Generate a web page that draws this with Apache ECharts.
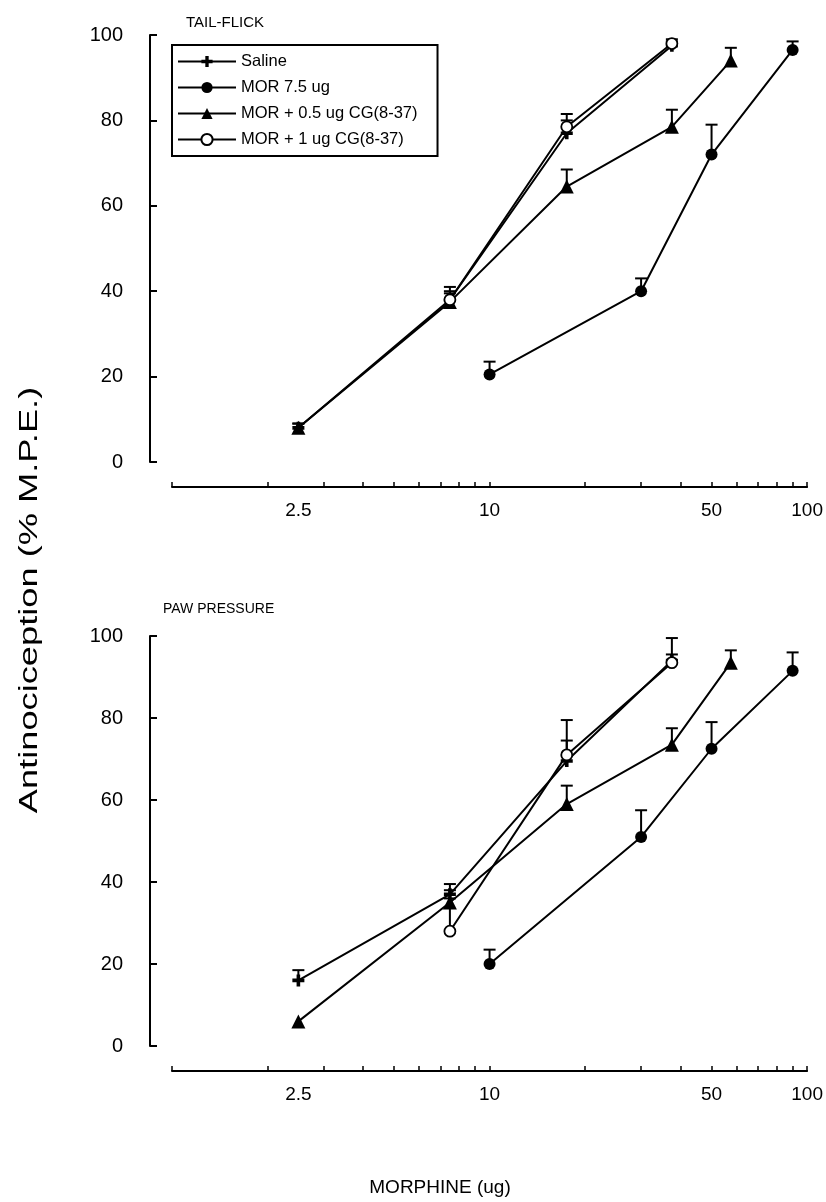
<!DOCTYPE html>
<html><head><meta charset="utf-8">
<script src="https://cdn.jsdelivr.net/npm/echarts@6/dist/echarts.min.js"></script>
<style>html,body{margin:0;padding:0;background:#fff}#c{width:826px;height:1202px}</style>
</head><body><div id="c"></div>
<script>
// Doses (ug, log axis)
const doseSaline = [2.5, 7.5, 17.5, 37.5];
const doseMor = [10, 30, 50, 90];
const doseCg05 = [2.5, 7.5, 17.5, 37.5, 57.5];
const doseCg1 = [7.5, 17.5, 37.5];
// TAIL-FLICK (% M.P.E.) and upward SEM
const tfSaline = [8, 38, 77, 97.5];      const tfSalineErr = [1, 3, 3, 1];
const tfMor = [20.5, 40, 72, 96.5];      const tfMorErr = [3, 3, 7, 2];
const tfCg05 = [8, 37.5, 64.5, 78.5, 94]; const tfCg05Err = [1, 2, 4, 4, 3];
const tfCg1 = [38, 78.5, 98];            const tfCg1Err = [2, 3, 1];
// PAW PRESSURE
const ppSaline = [16, 37, 69.5, 94];     const ppSalineErr = [2.5, 2.5, 5, 5.5];
const ppMor = [20, 51, 72.5, 91.5];      const ppMorErr = [3.5, 6.5, 6.5, 4.5];
const ppCg05 = [6, 35, 59, 73.5, 93.5];  const ppCg05Err = [0, 3, 4.5, 4, 3];
const ppCg1 = [28, 71, 93.5];            const ppCg1Err = [8, 8.5, 2];
// Axis ticks / labels
const xLabels = [2.5, 10, 50, 100];
const xTicks = [1, 2, 3, 4, 5, 6, 7, 8, 9, 10, 20, 30, 40, 50, 60, 70, 80, 90, 100];
const names = ['Saline', 'MOR 7.5 ug', 'MOR + 0.5 ug CG(8-37)', 'MOR + 1 ug CG(8-37)'];

const FONT = 'Liberation Sans, Arial, sans-serif';
const plusPath = 'path://M3.5,0h3v3.5h3.5v3h-3.5v3.5h-3v-3.5h-3.5v-3h3.5z';
const symStyles = [
  {symbol: plusPath, symbolSize: 12, itemStyle: {color: '#000'}},
  {symbol: 'circle', symbolSize: 12, itemStyle: {color: '#000'}},
  {symbol: 'triangle', symbolSize: 14, itemStyle: {color: '#000'}},
  {symbol: 'circle', symbolSize: 11, itemStyle: {color: '#fff', borderColor: '#000', borderWidth: 1.8}}
];

function pairs(xs, ys) { return xs.map((x, i) => [x, ys[i]]); }
function errData(xs, ys, es) { return xs.map((x, i) => [x, ys[i], ys[i] + es[i]]); }

function errSeries(idx, k, xs, ys, es) {
  return {
    type: 'custom', name: 'err_' + idx + '_' + k, xAxisIndex: idx, yAxisIndex: idx, z: 1,
    silent: true,
    data: errData(xs, ys, es),
    renderItem: function (params, api) {
      if (api.value(2) - api.value(1) <= 0) return null;
      const p0 = api.coord([api.value(0), api.value(1)]);
      const p1 = api.coord([api.value(0), api.value(2)]);
      return {
        type: 'group', children: [
          {type: 'line', shape: {x1: p0[0], y1: p0[1], x2: p1[0], y2: p1[1]}, style: {stroke: '#000', lineWidth: 2}},
          {type: 'line', shape: {x1: p1[0] - 6, y1: p1[1], x2: p1[0] + 6, y2: p1[1]}, style: {stroke: '#000', lineWidth: 2}}
        ]
      };
    }
  };
}
function lineSeries(idx, k, xs, ys) {
  return Object.assign({
    type: 'line', name: names[k], xAxisIndex: idx, yAxisIndex: idx, z: 3,
    data: pairs(xs, ys), lineStyle: {color: '#000', width: 2}, showSymbol: true, animation: false
  }, symStyles[k]);
}

const panels = [
  [[doseSaline, tfSaline, tfSalineErr], [doseMor, tfMor, tfMorErr], [doseCg05, tfCg05, tfCg05Err], [doseCg1, tfCg1, tfCg1Err]],
  [[doseSaline, ppSaline, ppSalineErr], [doseMor, ppMor, ppMorErr], [doseCg05, ppCg05, ppCg05Err], [doseCg1, ppCg1, ppCg1Err]]
];
const series = [];
panels.forEach((panel, idx) => {
  panel.forEach((d, k) => {
    series.push(errSeries(idx, k, d[0], d[1], d[2]));
    series.push(lineSeries(idx, k, d[0], d[1]));
  });
});

function xAxis(idx) {
  return {
    type: 'log', logBase: 10, min: 1, max: 100, gridIndex: idx, offset: 25,
    axisLine: {show: true, onZero: false, lineStyle: {color: '#000', width: 2}},
    axisTick: {show: true, inside: true, length: 5, customValues: xTicks, lineStyle: {color: '#000', width: 1.5}},
    axisLabel: {customValues: xLabels, color: '#000', fontSize: 19, fontFamily: FONT, margin: 14,
      formatter: v => String(v)},
    splitLine: {show: false}, minorTick: {show: false}
  };
}
function yAxis(idx) {
  return {
    type: 'value', min: 0, max: 100, interval: 20, gridIndex: idx, offset: 22,
    axisLine: {show: true, onZero: false, lineStyle: {color: '#000', width: 2}},
    axisTick: {show: true, inside: true, length: 7, lineStyle: {color: '#000', width: 2}},
    axisLabel: {color: '#000', fontSize: 20, fontFamily: FONT, margin: 27},
    splitLine: {show: false}
  };
}

const chart = echarts.init(document.getElementById('c'), null, {renderer: 'canvas'});
chart.setOption({
  animation: false,
  backgroundColor: '#fff',
  title: [
    {text: 'TAIL-FLICK', left: 181, top: 10, textStyle: {fontSize: 15, fontWeight: 'normal', color: '#000', fontFamily: FONT}},
    {text: 'PAW PRESSURE', left: 158, top: 597, textStyle: {fontSize: 14, fontWeight: 'normal', color: '#000', fontFamily: FONT}}
  ],
  legend: {
    data: names, orient: 'vertical', left: 172, top: 45,
    borderColor: '#000', borderWidth: 2, borderRadius: 0, padding: [8, 20, 8, 5],
    itemWidth: 58, itemHeight: 14, itemGap: 9,
    textStyle: {fontSize: 16.5, color: '#000', fontFamily: FONT}
  },
  grid: [
    {left: 172, right: 14, top: 35, height: 427},
    {left: 172, right: 14, top: 636, height: 410}
  ],
  xAxis: [xAxis(0), xAxis(1)],
  yAxis: [yAxis(0), yAxis(1)],
  graphic: [
    {type: 'text', rotation: Math.PI / 2, x: 30, y: 600, scaleX: 1.45,
      style: {text: 'Antinociception (% M.P.E.)', fontSize: 25, fill: '#000', fontFamily: FONT,
        textAlign: 'center', textVerticalAlign: 'middle'}},
    {type: 'text', x: 440, y: 1188,
      style: {text: 'MORPHINE (ug)', fontSize: 19, fill: '#000', fontFamily: FONT, textAlign: 'center', textVerticalAlign: 'middle'}}
  ],
  series: series
});
</script></body></html>
